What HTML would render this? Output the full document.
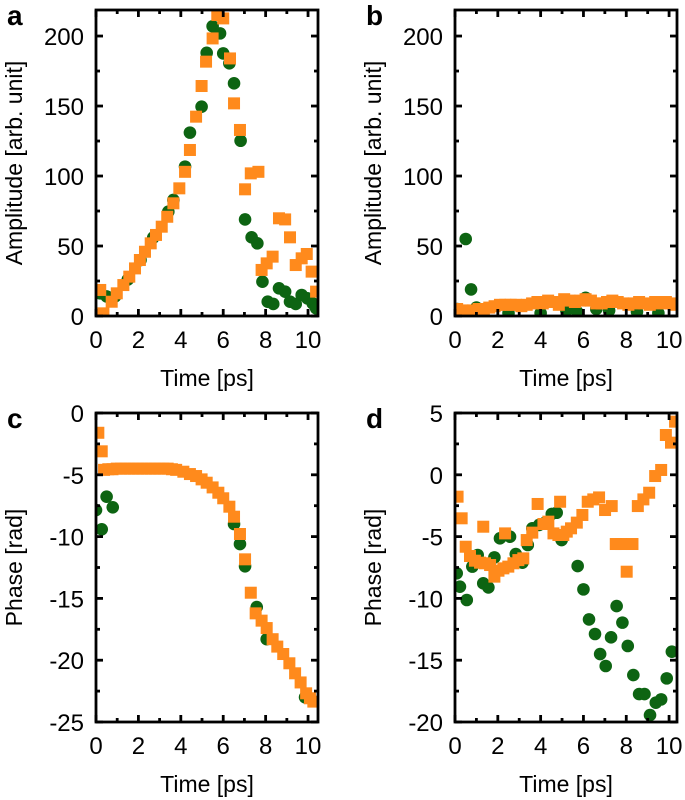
<!DOCTYPE html>
<html><head><meta charset="utf-8"><style>
body{margin:0;background:#fff;}
svg{display:block;font-family:"Liberation Sans",sans-serif;}
</style></head><body>
<svg id="fig" width="685" height="800" viewBox="0 0 685 800" xmlns="http://www.w3.org/2000/svg"></svg>
<script>
// Panel a data (amplitude)
const aOrangeT=[0.2,0.35,0.74,0.98,1.29,1.57,1.84,2.07,2.31,2.58,2.83,3.1,3.36,3.65,3.93,4.2,4.43,4.72,4.98,5.19,5.5,5.72,6.0,6.32,6.51,6.79,7.03,7.3,7.66,7.81,8.05,8.33,8.63,8.92,9.15,9.42,9.7,9.94,10.17,10.38];
const aOrangeV=[18.6,1.9,10.2,16.2,22.1,28.1,34,40,45.9,51.9,57.9,63.8,70.9,80.5,91.2,103,118.6,142.4,164.3,181.7,198.3,215,212.6,184,151.9,132.9,90.5,101.9,103,32.9,37.6,42.4,69.8,69,56.2,36.4,41.2,44.3,31.7,17.4];
const aGreenT=[0.2,0.5,0.9,1.5,2.1,2.7,3.41,3.65,4.2,4.43,4.98,5.22,5.5,5.85,6.0,6.29,6.51,6.82,7.03,7.34,7.61,7.85,8.1,8.36,8.63,8.92,9.15,9.42,9.7,9.97,10.22,10.38];
const aGreenV=[16.2,14,14,26,40,56,74.5,82.9,106.7,131,149.5,188,207,201.9,187.6,180.5,166.2,125.2,69,56.2,51.9,24.5,10.2,8.6,19.8,17.4,10.2,8.6,15,12.6,9,5.5];
// Panel b data
const bOrangeT=[0.1,0.35,0.6,0.85,1.1,1.35,1.6,1.85,2.1,2.35,2.6,2.85,3.1,3.35,3.6,3.85,4.1,4.35,4.6,4.85,5.1,5.35,5.6,5.85,6.1,6.35,6.6,6.85,7.1,7.35,7.6,7.85,8.1,8.35,8.6,8.85,9.1,9.35,9.6,9.85,10.1,10.3];
const bOrangeV=[5,4,2,4,5,5,6,7,8,8,8,8,7,8,9,10,9,11,10,8,12,11,10,11,12,11,9,9,10,11,10,9,8,9,10,9,8,10,9,10,9,8];
const bGreenT=[0.1,0.5,0.75,1.0,2.5,4.0,5.2,5.7,6.1,6.6,7.2,8.5,9.5];
const bGreenV=[5,55,19,6,2,2,4,3,13,5,4,3,2];
// Panel c data (phase)
const cOrangeT=[0.11,0.27,0.38,0.58,0.78,0.98,1.18,1.38,1.58,1.78,1.98,2.18,2.38,2.58,2.78,2.98,3.18,3.38,3.58,3.78,4.12,4.43,4.72,4.98,5.22,5.5,5.77,6.0,6.29,6.51,6.79,7.03,7.3,7.53,7.81,8.05,8.33,8.55,8.83,9.12,9.39,9.65,9.91,10.09,10.25];
const cOrangeV=[-1.6,-3.1,-4.6,-4.55,-4.55,-4.5,-4.5,-4.5,-4.5,-4.5,-4.5,-4.5,-4.5,-4.5,-4.5,-4.5,-4.5,-4.5,-4.55,-4.6,-4.75,-4.94,-5.1,-5.37,-5.64,-6.02,-6.45,-6.9,-7.58,-8.39,-9.79,-11.84,-14.54,-16.21,-16.8,-17.4,-18.3,-18.9,-19.5,-20.25,-21.06,-21.8,-22.68,-23.08,-23.35];
const cGreenT=[0.0,0.27,0.5,0.79,6.51,6.79,7.03,7.58,8.05,9.86];
const cGreenV=[-7.85,-9.41,-6.77,-7.63,-8.98,-10.6,-12.4,-15.7,-18.3,-23.0];
// Panel d data
const dOrangeT=[0.12,0.31,0.5,0.7,0.93,1.17,1.32,1.4,1.64,1.84,2.03,2.26,2.34,2.49,2.73,2.96,3.19,3.35,3.61,3.86,4.13,4.36,4.6,4.83,4.91,5.06,5.22,5.42,5.69,5.95,6.2,6.46,6.73,7.01,7.32,7.51,7.76,8.02,8.29,8.54,8.8,9.07,9.35,9.63,9.85,10.09,10.28];
const dOrangeV=[-1.77,-3.52,-5.82,-6.57,-6.95,-7.11,-4.2,-7.16,-7.3,-8.24,-7.76,-7.57,-4.74,-7.43,-7.16,-6.9,-6.76,-5.28,-4.68,-2.36,-3.98,-3.79,-4.74,-4.87,-2.18,-4.87,-4.6,-4.33,-3.87,-3.25,-2.18,-1.99,-1.83,-2.85,-2.53,-5.6,-5.6,-7.84,-5.6,-2.53,-1.99,-1.45,-0.1,0.39,3.22,2.6,4.3];
const dGreenT=[0.08,0.23,0.55,0.81,1.06,1.32,1.56,1.84,2.1,2.57,2.84,3.15,3.4,3.61,3.93,4.21,4.52,4.75,4.98,5.73,6.0,6.26,6.54,6.78,7.04,7.29,7.55,7.82,8.07,8.33,8.6,8.85,9.11,9.38,9.63,9.89,10.13];
const dGreenV=[-7.97,-9.05,-10.13,-7.43,-6.49,-8.78,-9.11,-6.68,-5.14,-5.01,-6.41,-7.11,-5.68,-4.33,-4.06,-3.87,-3.17,-3.07,-5.28,-7.38,-9.27,-11.7,-12.88,-14.5,-15.47,-13.15,-10.62,-11.96,-13.85,-16.2,-17.74,-17.74,-19.44,-18.44,-18.17,-16.47,-14.31];
const xTicks=[0,2,4,6,8,10];
const ampTicks=[0,50,100,150,200];
const cTicks=[0,-5,-10,-15,-20,-25];
const dTicks=[5,0,-5,-10,-15,-20];

const NS='http://www.w3.org/2000/svg';
const svg=document.getElementById('fig');
function mk(tag,attrs,parent){const e=document.createElementNS(NS,tag);for(const k in attrs)e.setAttribute(k,attrs[k]);(parent||svg).appendChild(e);return e;}
const GREEN='#0d6412', ORANGE='#ff8a1c';

function panel(id,letter,L,R,T,B,xmax,ymin,ymax,yt,yMinor,ytitle,greenT,greenV,orT,orV){
  const g=mk('g',{});
  
  
  const sx=t=>L+(t/xmax)*(R-L);
  const sy=v=>B-(v-ymin)/(ymax-ymin)*(B-T);
  const clip=mk('clipPath',{id:'clip'+id},g);
  mk('rect',{x:L,y:T,width:R-L,height:B-T},clip);
  const marks=mk('g',{'clip-path':'url(#clip'+id+')'},g);
  for(let i=0;i<greenT.length;i++){
    const c=mk('circle',{cx:sx(greenT[i]),cy:sy(greenV[i]),r:6.3,fill:GREEN},marks);
    
    
  }
  for(let i=0;i<orT.length;i++){
    const s=mk('rect',{x:sx(orT[i])-6,y:sy(orV[i])-6,width:12,height:12,fill:ORANGE},marks);
    
    
  }
  for(let t=0;t<=xmax;t+=1){
    const x=sx(t), len=(t%2===0)?7:4;
    mk('line',{x1:x,y1:B,x2:x,y2:B-len,stroke:'#000','stroke-width':2.8},g);
    mk('line',{x1:x,y1:T,x2:x,y2:T+len,stroke:'#000','stroke-width':2.8},g);
  }
  for(const t of xTicks){
    const tx=mk('text',{x:sx(t),y:B+32,'text-anchor':'middle','font-size':24},g);
    tx.textContent=t;
    
    
  }
  for(let v=ymin;v<=ymax+1e-6;v+=yMinor){
    const y=sy(v); const major=yt.some(u=>Math.abs(u-v)<1e-6); const len=major?7:4;
    mk('line',{x1:L,y1:y,x2:L+len,y2:y,stroke:'#000','stroke-width':2.8},g);
    mk('line',{x1:R,y1:y,x2:R-len,y2:y,stroke:'#000','stroke-width':2.8},g);
  }
  for(const v of yt){
    const tx=mk('text',{x:L-12,y:sy(v)+9,'text-anchor':'end','font-size':24},g);
    tx.textContent=v;
    
    
  }
  const fr=mk('rect',{x:L,y:T,width:R-L,height:B-T,fill:'none',stroke:'#000','stroke-width':2.8},g);
  
  
  const xt=mk('text',{x:(L+R)/2,y:B+70,'text-anchor':'middle','font-size':23},g);
  xt.textContent='Time [ps]';
  
  
  const cy=(T+B)/2, cx=L-74;
  const yti=mk('text',{x:cx,y:cy,'text-anchor':'middle','font-size':23,transform:'rotate(-90 '+cx+' '+cy+')'},g);
  yti.textContent=ytitle;
  
  
  const pl=mk('text',{x:L-89,y:T+15,'font-size':28,'font-weight':'bold'},g);
  pl.textContent=letter;
  
  
}
panel('a','a',96,318,10,316,10.47,0,218.6,ampTicks,25,'Amplitude [arb. unit]',aGreenT,aGreenV,aOrangeT,aOrangeV);
panel('b','b',455,677,10,316,10.37,0,218.6,ampTicks,25,'Amplitude [arb. unit]',bGreenT,bGreenV,bOrangeT,bOrangeV);
panel('c','c',96,318,413,722,10.47,-25,0,cTicks,2.5,'Phase [rad]',cGreenT,cGreenV,cOrangeT,cOrangeV);
panel('d','d',455,677,413,722,10.37,-20,5,dTicks,2.5,'Phase [rad]',dGreenT,dGreenV,dOrangeT,dOrangeV);
</script>
</body></html>
